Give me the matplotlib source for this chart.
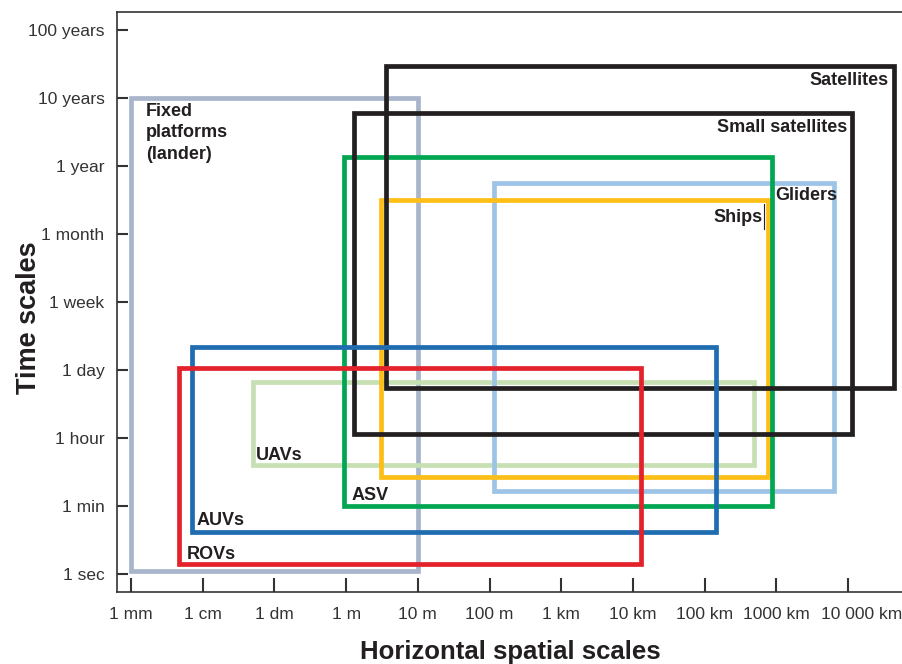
import matplotlib
matplotlib.use("Agg")
import matplotlib.pyplot as plt
from matplotlib.patches import Rectangle
from matplotlib.transforms import ScaledTranslation

plt.rcParams['font.family'] = ['Liberation Sans', 'DejaVu Sans']

# x axis: log10 of horizontal scale in metres
x_tick_pos = [-3, -2, -1, 0, 1, 2, 3, 4, 5, 6, 7]
x_tick_labels = ["1 mm", "1 cm", "1 dm", "1 m", "10 m", "100 m", "1 km",
                 "10 km", "100 km", "1000 km", "10 000 km"]
# y axis: ordinal time-scale index
y_tick_pos = [0, 1, 2, 3, 4, 5, 6, 7, 8]
y_tick_labels = ["1 sec", "1 min", "1 hour", "1 day", "1 week", "1 month",
                 "1 year", "10 years", "100 years"]

platforms = ["Fixed platforms (lander)", "UAVs", "Gliders", "Ships", "ASV",
             "Small satellites", "Satellites", "AUVs", "ROVs"]
x_min = [-3.00, -1.30, 2.06, 0.49, -0.03, 0.11, 0.56, -2.15, -2.33]
x_max = [1.00, 5.69, 6.80, 5.88, 5.94, 7.06, 7.64, 5.16, 4.11]
y_min = [0.05, 1.60, 1.22, 1.43, 1.00, 2.06, 2.74, 0.62, 0.15]
y_max = [7.00, 2.82, 5.75, 5.50, 6.13, 6.78, 7.47, 3.34, 3.03]

colors = ["#A9B5CB", "#C6E0B4", "#9DC3E6", "#FDBE17", "#00A651",
          "#231F20", "#231F20", "#1F6CB0", "#E3222B"]

# label placement (x, y, ha, va, text)
labels = [
    (-2.79, 6.93, "left", "top", "Fixed\nplatforms\n(lander)"),
    (-1.26, 1.74, "left", "center", "UAVs"),
    (5.98, 5.57, "left", "center", "Gliders"),
    (5.80, 5.25, "right", "center", "Ships"),
    (0.07, 1.16, "left", "center", "ASV"),
    (6.99, 6.57, "right", "center", "Small satellites"),
    (7.57, 7.26, "right", "center", "Satellites"),
    (-2.08, 0.79, "left", "center", "AUVs"),
    (-2.22, 0.28, "left", "center", "ROVs"),
]

fig = plt.figure(figsize=(9.02, 6.64), dpi=100)
ax = fig.add_axes([117 / 902, 72 / 664, 790 / 902, 580 / 664])

for i in range(len(platforms)):
    r = Rectangle((x_min[i], y_min[i]), x_max[i] - x_min[i], y_max[i] - y_min[i],
                  fill=False, edgecolor=colors[i], linewidth=3.4,
                  joinstyle='miter', zorder=2 + i)
    ax.add_patch(r)

for (x, y, ha, va, t) in labels:
    ax.text(x, y, t, ha=ha, va=va, fontsize=13, fontweight='bold',
            color='#231F20', linespacing=1.35, zorder=20)

# small vertical mark next to "Ships"
ax.plot([5.83, 5.83], [5.08, 5.44], color='#231F20', lw=0.8, zorder=20)

ax.set_xlim(-3.195, 7.82)
ax.set_ylim(-0.265, 8.265)
ax.set_xticks(x_tick_pos)
ax.set_xticklabels(x_tick_labels)
ax.set_yticks(y_tick_pos)
ax.set_yticklabels(y_tick_labels)
ax.tick_params(axis='x', direction='in', length=10, width=1.5, pad=11,
               labelsize=12.5, colors='#333333')
ax.tick_params(axis='y', direction='in', length=8, width=1.5, pad=9,
               labelsize=12.5, colors='#333333')
for s in ['left', 'bottom', 'top']:
    ax.spines[s].set_color('#333333')
    ax.spines[s].set_linewidth(1.2)
ax.spines['right'].set_visible(False)

last = ax.get_xticklabels()[-1]
last.set_transform(last.get_transform() + ScaledTranslation(0.13, 0, fig.dpi_scale_trans))

ax.set_xlabel("Horizontal spatial scales", fontsize=18.5, fontweight='bold',
              color='#231F20')
ax.set_ylabel("Time scales", fontsize=19.5, fontweight='bold',
              color='#231F20')
ax.xaxis.set_label_coords((510 - 117) / 790, -(640 - 592) / 580)
ax.yaxis.set_label_coords(-(117 - 42) / 790, (592 - 318) / 580)

fig.savefig("out.png", dpi=100)
